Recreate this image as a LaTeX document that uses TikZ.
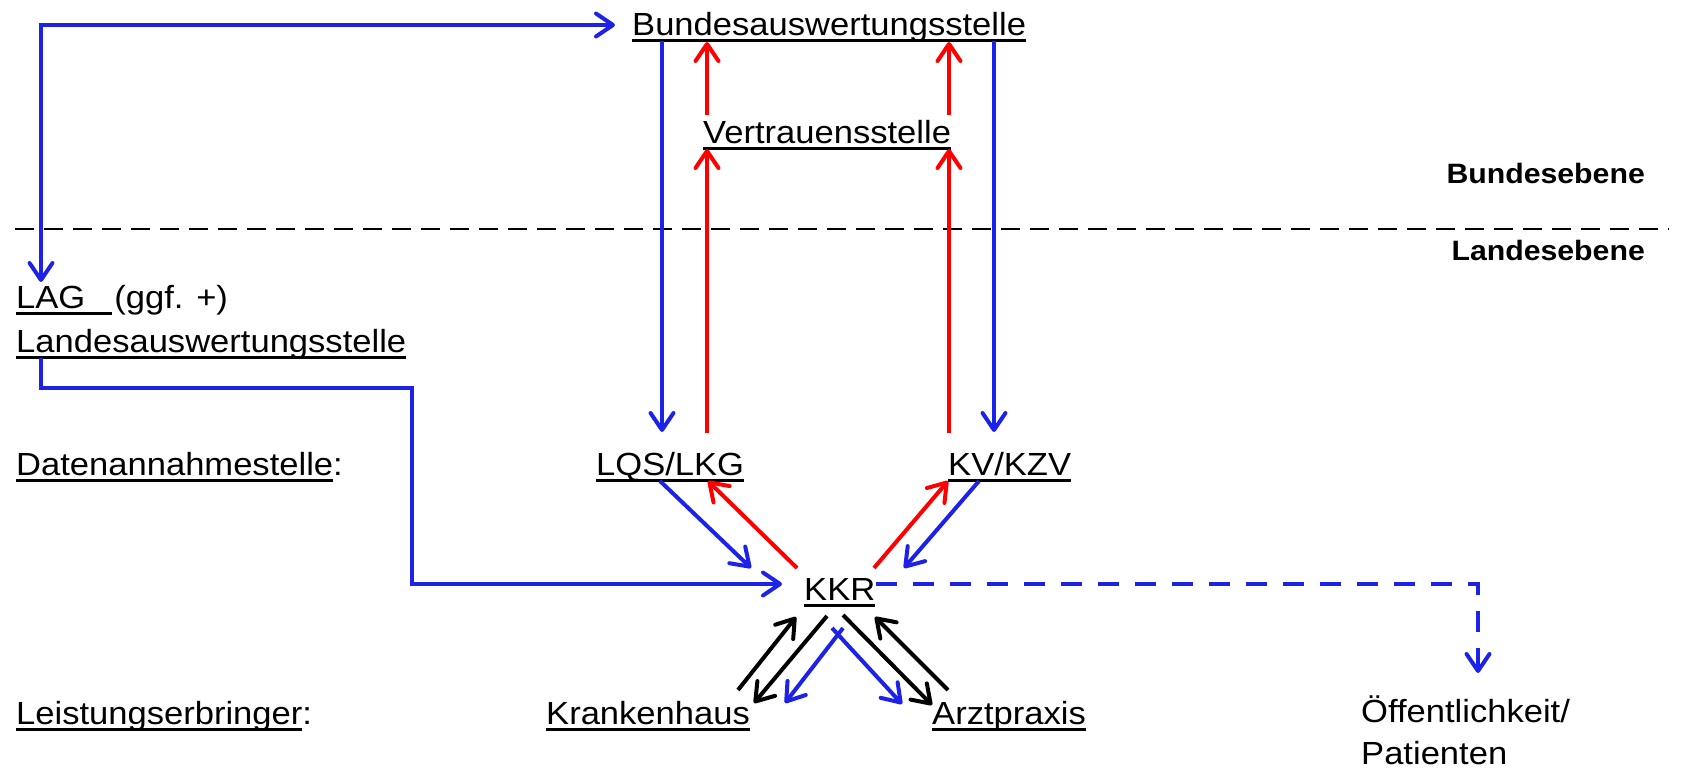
\documentclass[tikz,border=0pt]{standalone}
\usepackage{fontspec}
\setmainfont{Liberation Sans}[FakeStretch=1.08]
\usetikzlibrary{arrows.meta,calc}
\definecolor{flowblue}{RGB}{28,34,232}
% underline at a fixed depth below the baseline
\newsavebox\ulinebox
\newcommand\ulined[1]{\sbox\ulinebox{#1}\rlap{\rule[-6.5pt]{\wd\ulinebox}{2.6pt}}\usebox\ulinebox}
\newcommand\ulgap[1]{\rule[-6.5pt]{#1}{2.6pt}}
\begin{document}
\begin{tikzpicture}[x=1pt,y=-1pt,
  >={Straight Barb[length=17pt,width=23pt,round]},
  lbl/.style={inner sep=0pt,anchor=base west,font=\fontsize{32pt}{44pt}\selectfont},
  lvl/.style={inner sep=0pt,anchor=base east,font=\fontsize{28pt}{34pt}\selectfont\bfseries},
  bflow/.style={draw=flowblue,line width=4pt},
  rflow/.style={draw=red,line width=4pt},
  kflow/.style={draw=black,line width=4pt}]
\useasboundingbox (0,0) rectangle (1683,771);

% level separator
\coordinate (sepL) at (15,229);
\coordinate (sepR) at (1669,229);
\draw[line width=2pt,dash pattern=on 19pt off 10pt] (sepL) -- (sepR);
\node[lvl] (bu) at (1645,183) {Bundesebene};
\node[lvl] (la) at (1645,260) {Landesebene};

% institutions
\node[lbl] (bund) at (632,35)  {\ulined{Bundesauswertungsstelle}};
\node[lbl] (vs)   at (703,143) {\ulined{Vertrauensstelle}};
\node[lbl] (lag)  at (16,308)  {\ulined{LAG}\ulgap{27pt}\hspace{2pt}(ggf. +)};
\node[lbl] (lan)  at (16,352)  {\ulined{Landesauswertungsstelle}};
\node[lbl] (dat)  at (16,475)  {\ulined{Datenannahmestelle}:};
\node[lbl] (lqs)  at (596,475) {\ulined{LQS/LKG}};
\node[lbl] (kv)   at (948,475) {\ulined{KV/KZV}};
\node[lbl] (kkr)  at (804,600) {\ulined{KKR}};
\node[lbl] (leis) at (16,724)  {\ulined{Leistungserbringer}:};
\node[lbl] (kh)   at (546,724) {\ulined{Krankenhaus}};
\node[lbl] (arzt) at (932,724) {\ulined{Arztpraxis}};
\node[lbl] (oef1) at (1361,722) {Öffentlichkeit/};
\node[lbl] (oef2) at (1361,764) {Patienten};

% blue flows
\draw[bflow,<->] ($(bund.base west)+(-17,-10)$) -| ($(lag.base west)+(25,-26)$);
\coordinate (bend) at (412,388);
\draw[bflow,->] ($(lan.base west)+(25,6)$) |- (bend) |- ($(kkr.base west)+(-22,-16)$);
\draw[bflow,->] ($(bund.base west)+(30,6)$) -- ($(lqs.base west)+(66,-43)$);
\draw[bflow,->] ($(bund.base west)+(362,6)$) -- ($(kv.base west)+(46,-43)$);
\draw[bflow,->] ($(lqs.base west)+(64,6)$) -- ($(kkr.base west)+(-53,-32)$);
\draw[bflow,->] ($(kv.base west)+(31,6)$) -- ($(kkr.base west)+(100,-32)$);
\draw[bflow,->] ($(kkr.base west)+(39,28)$) -- ($(kh.base west)+(239,-21)$);
\draw[bflow,->] ($(kkr.base west)+(28,28)$) -- ($(arzt.base west)+(-30,-20)$);
\draw[bflow,->,dash pattern=on 21pt off 16pt] ($(kkr.base west)+(72,-16)$) -| ($(oef1.base west)+(117,-49)$);

% red flows
\draw[rflow,->] ($(vs.base west)+(4,-28)$) -- ($(bund.base west)+(75,7)$);
\draw[rflow,->] ($(vs.base west)+(246,-28)$) -- ($(bund.base west)+(317,7)$);
\draw[rflow,->] ($(lqs.base west)+(111,-42)$) -- ($(vs.base west)+(4,6)$);
\draw[rflow,->] ($(kv.base west)+(1,-42)$) -- ($(vs.base west)+(246,6)$);
\draw[rflow,->] ($(kkr.base west)+(-7,-32)$) -- ($(lqs.base west)+(112,6)$);
\draw[rflow,->] ($(kkr.base west)+(70,-32)$) -- ($(kv.base west)+(0,6)$);

% black flows
\draw[kflow,->] ($(kh.base west)+(192,-34)$) -- ($(kkr.base west)+(-8,17)$);
\draw[kflow,->] ($(kkr.base west)+(23,16)$) -- ($(kh.base west)+(208,-21)$);
\draw[kflow,->] ($(kkr.base west)+(39,15)$) -- ($(arzt.base west)+(0,-19)$);
\draw[kflow,->] ($(arzt.base west)+(16,-34)$) -- ($(kkr.base west)+(71,17)$);
\end{tikzpicture}
\end{document}
